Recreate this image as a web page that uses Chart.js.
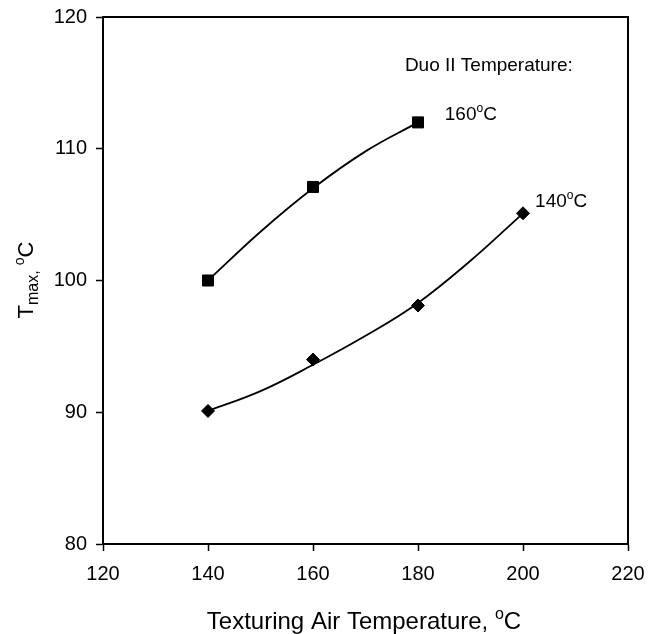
<!DOCTYPE html>
<html>
<head>
<meta charset="utf-8">
<script src="https://cdn.jsdelivr.net/npm/chart.js@4/dist/chart.umd.min.js"></script>
<style>
  body { margin: 0; background: #fff; }
  #wrap { width: 654px; height: 634px; }
</style>
</head>
<body>
<div id="wrap"><canvas id="chart" width="654" height="634"></canvas></div>
<script>
// measured points: texturing air temperature (x) and Tmax (y) per Duo II temperature
const airTemp160 = [140, 160, 180];
const tmax160 = [100, 107.1, 112.0];
const airTemp140 = [140, 160, 180, 200];
const tmax140 = [90.1, 94.0, 98.1, 105.1];

// fitted curves
const fitX160 = [140, 150, 160, 170, 180];
const fitY160 = [100, 103.7, 107.0, 109.8, 112.0];
const fitX140 = [140, 150, 160, 170, 180, 190, 200];
const fitY140 = [90.1, 91.6, 93.6, 95.8, 98.3, 101.5, 105.1];

const xTicks = [120, 140, 160, 180, 200, 220];
const yTicks = [80, 90, 100, 110, 120];

const FONT = '"Liberation Sans", Arial, Helvetica, sans-serif';

const toPoints = (xs, ys) => xs.map((x, i) => ({ x: x, y: ys[i] }));

// text with a raised small "o" for the degree sign
function drawDeg(ctx, x, y, before, after, size) {
  ctx.font = size + 'px ' + FONT;
  ctx.fillText(before, x, y);
  let w = ctx.measureText(before).width;
  ctx.font = Math.round(size * 0.65) + 'px ' + FONT;
  ctx.fillText('o', x + w, y - size * 0.42);
  w += ctx.measureText('o').width;
  ctx.font = size + 'px ' + FONT;
  ctx.fillText(after, x + w, y);
}

function degWidth(ctx, before, after, size) {
  ctx.font = size + 'px ' + FONT;
  let w = ctx.measureText(before).width + ctx.measureText(after).width;
  ctx.font = Math.round(size * 0.65) + 'px ' + FONT;
  return w + ctx.measureText('o').width;
}

const extras = {
  id: 'extras',
  afterDraw(chart) {
    const { ctx, chartArea: a, scales } = chart;
    ctx.save();
    // box
    ctx.strokeStyle = '#000';
    ctx.lineWidth = 2;
    ctx.strokeRect(a.left, a.top, a.right - a.left, a.bottom - a.top);

    ctx.fillStyle = '#000';
    ctx.textBaseline = 'alphabetic';
    ctx.textAlign = 'left';

    ctx.font = '19px ' + FONT;
    ctx.fillText('Duo II Temperature:', scales.x.getPixelForValue(177.5), scales.y.getPixelForValue(115.9));
    drawDeg(ctx, scales.x.getPixelForValue(185.1), scales.y.getPixelForValue(112.2), '160', 'C', 19);
    drawDeg(ctx, scales.x.getPixelForValue(202.3), scales.y.getPixelForValue(105.6), '140', 'C', 19);

    // x title
    const xt1 = 'Texturing Air Temperature, ';
    const tw = degWidth(ctx, xt1, 'C', 24);
    drawDeg(ctx, 364 - tw / 2, 629, xt1, 'C', 24);

    // y title: T_max, °C rotated
    ctx.translate(33, 280);
    ctx.rotate(-Math.PI / 2);
    ctx.font = '22px ' + FONT;
    const wT = ctx.measureText('T').width;
    ctx.font = '16px ' + FONT;
    const wMax = ctx.measureText('max,').width;
    const total = wT + wMax + 5 + degWidth(ctx, '', 'C', 22);
    let px = -total / 2;
    ctx.font = '22px ' + FONT;
    ctx.fillText('T', px, 0);
    px += wT;
    ctx.font = '16px ' + FONT;
    ctx.fillText('max,', px, 5);
    px += wMax + 5;
    drawDeg(ctx, px, 0, '', 'C', 22);
    ctx.restore();
  }
};

new Chart(document.getElementById('chart').getContext('2d'), {
  type: 'line',
  data: {
    datasets: [
      {
        label: 'fit 160°C',
        data: toPoints(fitX160, fitY160),
        borderColor: '#000',
        borderWidth: 1.8,
        pointRadius: 0,
        tension: 0.4
      },
      {
        label: 'fit 140°C',
        data: toPoints(fitX140, fitY140),
        borderColor: '#000',
        borderWidth: 1.8,
        pointRadius: 0,
        tension: 0.4
      },
      {
        label: '160°C',
        data: toPoints(airTemp160, tmax160),
        showLine: false,
        borderColor: '#000',
        backgroundColor: '#000',
        pointStyle: 'rect',
        pointRadius: 7.8
      },
      {
        label: '140°C',
        data: toPoints(airTemp140, tmax140),
        showLine: false,
        borderColor: '#000',
        backgroundColor: '#000',
        pointStyle: 'rectRot',
        pointRadius: 6.5
      }
    ]
  },
  options: {
    responsive: false,
    animation: false,
    layout: { padding: { top: 17, right: 26, left: 0, bottom: 0 } },
    plugins: {
      legend: { display: false },
      tooltip: { enabled: false }
    },
    scales: {
      x: {
        type: 'linear',
        min: 120,
        max: 220,
        afterBuildTicks: s => { s.ticks = xTicks.map(v => ({ value: v })); },
        afterFit: s => { s.height = 90; s.paddingLeft = 0; s.paddingRight = 0; },
        grid: { display: true, drawOnChartArea: false, drawTicks: true, tickLength: 7, tickColor: '#000', tickWidth: 1.5 },
        border: { display: true, color: '#000', width: 2 },
        ticks: { color: '#000', font: { family: FONT, size: 20 }, padding: 11, maxRotation: 0 }
      },
      y: {
        type: 'linear',
        min: 80,
        max: 120,
        afterBuildTicks: s => { s.ticks = yTicks.map(v => ({ value: v })); },
        afterFit: s => { s.width = 103; s.paddingTop = 0; s.paddingBottom = 0; },
        grid: { display: true, drawOnChartArea: false, drawTicks: true, tickLength: 7, tickColor: '#000', tickWidth: 1.5 },
        border: { display: true, color: '#000', width: 2 },
        ticks: { color: '#000', font: { family: FONT, size: 20 }, padding: 9 }
      }
    }
  },
  plugins: [extras]
});
</script>
</body>
</html>
